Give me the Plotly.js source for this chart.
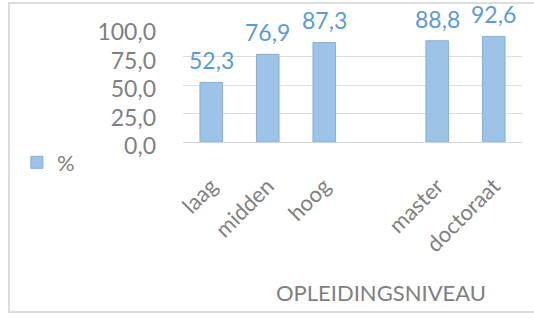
<!DOCTYPE html>
<html>
<head>
<meta charset="utf-8">
<script src="https://cdn.plot.ly/plotly-3.0.1.min.js"></script>
<style>
  html, body { margin: 0; padding: 0; background: #ffffff; }
  #wrap { position: relative; width: 534px; height: 324px; }
  #chart { width: 534px; height: 324px; }
  #frame { position: absolute; left: 8px; top: 2px; width: 530px; height: 311px;
           border: 2px solid #dcdcdc; pointer-events: none; box-sizing: border-box; }
</style>
</head>
<body>
<div id="wrap">
  <div id="chart"></div>
  <div id="frame"></div>
</div>
<script>
const categories = ['laag', 'midden', 'hoog', ' ', 'master', 'doctoraat'];
const values = [52.3, 76.9, 87.3, null, 88.8, 92.6];
const valueLabels = ['52,3', '76,9', '87,3', '', '88,8', '92,6'];
const yTickValues = [0, 25, 50, 75, 100];
const yTickLabels = ['0,0', '25,0', '50,0', '75,0', '100,0'];
const seriesName = '%';
const xTitle = 'OPLEIDINGSNIVEAU';

const FONT = 'Lato, "Open Sans", sans-serif';

const trace = {
  type: 'bar',
  x: categories,
  y: values,
  name: seriesName,
  marker: { color: '#9dc3e6', line: { color: '#7fb2e0', width: 1 } },
  showlegend: true,
  hoverinfo: 'none'
};

const labelAnnotations = categories.map((c, i) => values[i] == null ? null : ({
  x: c, y: values[i], xref: 'x', yref: 'y',
  text: valueLabels[i], showarrow: false,
  xanchor: 'center', yanchor: 'bottom', yshift: 6,
  font: { family: FONT, size: 23, color: '#5b9bd5' }
})).filter(a => a);

const layout = {
  width: 534, height: 324,
  margin: { l: 183, r: 12, t: 28, b: 182 },
  paper_bgcolor: '#ffffff',
  plot_bgcolor: '#ffffff',
  bargap: 0.6,
  font: { family: FONT, size: 22, color: '#7f7f7f' },
  showlegend: true,
  legend: {
    x: -0.49, y: -0.18, xanchor: 'left', yanchor: 'middle',
    font: { family: FONT, size: 22, color: '#7f7f7f' },
    itemwidth: 30, bgcolor: 'rgba(0,0,0,0)'
  },
  xaxis: {
    type: 'category',
    categoryorder: 'array',
    categoryarray: categories,
    tickangle: -45,
    tickfont: { family: FONT, size: 22, color: '#7f7f7f' },
    showgrid: false, zeroline: false, showline: false, ticks: '',
    ticklabelstandoff: 26
  },
  yaxis: {
    range: [0, 100],
    tickvals: yTickValues,
    ticktext: yTickLabels,
    tickfont: { family: FONT, size: 23, color: '#7f7f7f' },
    showgrid: true, gridcolor: '#dedede', gridwidth: 1,
    zeroline: true, zerolinecolor: '#d6d6d6', zerolinewidth: 1,
    showline: false, ticks: '', ticklabelstandoff: 26, ticklabelshift: 4
  },
  annotations: labelAnnotations.concat([{
    text: xTitle, xref: 'paper', yref: 'paper',
    x: 0.585, y: -1.32, xanchor: 'center', yanchor: 'middle',
    showarrow: false,
    font: { family: FONT, size: 22, color: '#7f7f7f' }
  }])
};

Plotly.newPlot('chart', [trace], layout, { displayModeBar: false, staticPlot: true });
</script>
</body>
</html>
